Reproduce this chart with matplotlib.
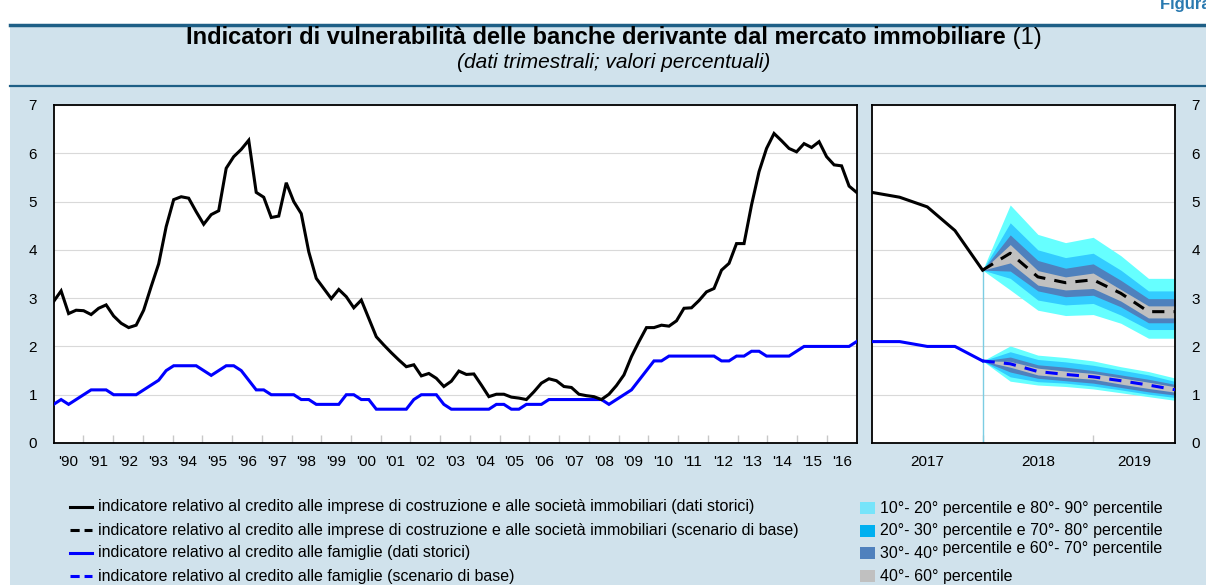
import numpy as np
import matplotlib
matplotlib.use("Agg")
import matplotlib.pyplot as plt
from matplotlib.lines import Line2D
from matplotlib.patches import Rectangle

plt.rcParams['font.family'] = ['Liberation Sans', 'DejaVu Sans']

# ---------------- DATA ----------------
# quarterly historical series 1990 Q1 - 2016 Q4 (left panel)
imprese_storico = [
    2.93, 3.15, 2.68, 2.75, 2.74, 2.66, 2.79, 2.86, 2.63, 2.48, 2.39, 2.44,
    2.75, 3.24, 3.71, 4.48, 5.04, 5.10, 5.07, 4.79, 4.53, 4.73, 4.81, 5.69,
    5.93, 6.08, 6.27, 5.19, 5.09, 4.67, 4.70, 5.39, 5.00, 4.75, 3.96, 3.41,
    3.20, 2.99, 3.18, 3.03, 2.80, 2.96, 2.58, 2.20, 2.03, 1.87, 1.72, 1.58,
    1.62, 1.39, 1.44, 1.34, 1.17, 1.28, 1.49, 1.42, 1.43, 1.20, 0.96, 1.01,
    1.01, 0.95, 0.93, 0.90, 1.06, 1.24, 1.33, 1.29, 1.17, 1.15, 1.01, 0.98,
    0.96, 0.90, 1.01, 1.19, 1.41, 1.79, 2.10, 2.39, 2.39, 2.44, 2.42, 2.53,
    2.79, 2.80, 2.95, 3.13, 3.20, 3.58, 3.72, 4.13, 4.13, 4.93, 5.62, 6.10,
    6.41, 6.26, 6.10, 6.03, 6.20, 6.12, 6.24, 5.93, 5.76, 5.74, 5.32, 5.19]
famiglie_storico = [
    0.8, 0.9, 0.8, 0.9, 1.0, 1.1, 1.1, 1.1, 1.0, 1.0, 1.0, 1.0,
    1.1, 1.2, 1.3, 1.5, 1.6, 1.6, 1.6, 1.6, 1.5, 1.4, 1.5, 1.6,
    1.6, 1.5, 1.3, 1.1, 1.1, 1.0, 1.0, 1.0, 1.0, 0.9, 0.9, 0.8,
    0.8, 0.8, 0.8, 1.0, 1.0, 0.9, 0.9, 0.7, 0.7, 0.7, 0.7, 0.7,
    0.9, 1.0, 1.0, 1.0, 0.8, 0.7, 0.7, 0.7, 0.7, 0.7, 0.7, 0.8,
    0.8, 0.7, 0.7, 0.8, 0.8, 0.8, 0.9, 0.9, 0.9, 0.9, 0.9, 0.9,
    0.9, 0.9, 0.8, 0.9, 1.0, 1.1, 1.3, 1.5, 1.7, 1.7, 1.8, 1.8,
    1.8, 1.8, 1.8, 1.8, 1.8, 1.7, 1.7, 1.8, 1.8, 1.9, 1.9, 1.8,
    1.8, 1.8, 1.8, 1.9, 2.0, 2.0, 2.0, 2.0, 2.0, 2.0, 2.0, 2.1]
anni = list(range(1990, 2017))
anni_labels = ["'90", "'91", "'92", "'93", "'94", "'95", "'96", "'97", "'98", "'99",
               "'00", "'01", "'02", "'03", "'04", "'05", "'06", "'07", "'08", "'09",
               "'10", "'11", "'12", "'13", "'14", "'15", "'16"]

# right panel: quarter index (0 = 2017 Q1 start)
trim_storico = [0, 1, 2, 3, 4]
imprese_storico_r = [5.19, 5.09, 4.89, 4.40, 3.58]
famiglie_storico_r = [2.1, 2.1, 2.0, 2.0, 1.7]
trim_prev = [4, 5, 6, 7, 8, 9, 10, 11]
imprese_p10 = [3.58, 3.17, 2.75, 2.64, 2.66, 2.48, 2.17, 2.17]
imprese_p20 = [3.58, 3.41, 2.96, 2.86, 2.89, 2.65, 2.35, 2.35]
imprese_p30 = [3.58, 3.56, 3.15, 3.03, 3.06, 2.82, 2.49, 2.49]
imprese_p40 = [3.58, 3.73, 3.27, 3.17, 3.20, 2.94, 2.59, 2.59]
imprese_med = [3.58, 3.93, 3.44, 3.32, 3.38, 3.10, 2.72, 2.72]
imprese_p60 = [3.58, 4.11, 3.57, 3.44, 3.52, 3.18, 2.84, 2.84]
imprese_p70 = [3.58, 4.31, 3.78, 3.62, 3.71, 3.37, 2.99, 2.99]
imprese_p80 = [3.58, 4.56, 4.00, 3.84, 3.93, 3.58, 3.15, 3.15]
imprese_p90 = [3.58, 4.93, 4.32, 4.15, 4.26, 3.88, 3.41, 3.41]
famiglie_p10 = [1.70, 1.28, 1.20, 1.17, 1.12, 1.04, 0.96, 0.88]
famiglie_p20 = [1.70, 1.37, 1.27, 1.24, 1.18, 1.10, 1.01, 0.94]
famiglie_p30 = [1.70, 1.47, 1.34, 1.29, 1.24, 1.15, 1.06, 0.99]
famiglie_p40 = [1.70, 1.57, 1.41, 1.36, 1.32, 1.22, 1.13, 1.05]
famiglie_med = [1.70, 1.64, 1.48, 1.42, 1.37, 1.29, 1.20, 1.10]
famiglie_p60 = [1.70, 1.69, 1.55, 1.49, 1.44, 1.35, 1.26, 1.16]
famiglie_p70 = [1.70, 1.78, 1.62, 1.57, 1.50, 1.41, 1.32, 1.21]
famiglie_p80 = [1.70, 1.89, 1.73, 1.68, 1.61, 1.51, 1.41, 1.27]
famiglie_p90 = [1.70, 2.01, 1.82, 1.77, 1.70, 1.58, 1.48, 1.34]
anni_r = ["2017", "2018", "2019"]
anni_r_pos = [2, 6, 9.5]
confini_anni_r = [4, 8]

legend_lines = [
    "indicatore relativo al credito alle imprese di costruzione e alle società immobiliari (dati storici)",
    "indicatore relativo al credito alle imprese di costruzione e alle società immobiliari (scenario di base)",
    "indicatore relativo al credito alle famiglie (dati storici)",
    "indicatore relativo al credito alle famiglie (scenario di base)"]
legend_bands = [
    ("10°- 20° percentile e 80°- 90° percentile", ""),
    ("20°- 30° percentile e 70°- 80° percentile", ""),
    ("30°- 40°", " percentile e 60°- 70° percentile"),
    ("40°- 60° percentile", "")]

# ---------------- STYLE ----------------
BG = '#D0E2EC'
TEAL = '#1E5F86'
C90 = '#66FFFF'
C80 = '#33CCFF'
C70 = '#4F81BD'
C60 = '#C0C0C0'
LEG_COLS = ['#77E4FA', '#00B0F0', '#4F81BD', '#C0C0C0']
GRID = '#D9D9D9'
W, H = 1206, 585

fig = plt.figure(figsize=(W / 100, H / 100), dpi=100)
fig.patch.set_facecolor('white')
renderer = fig.canvas.get_renderer()
fig.add_artist(Rectangle((10 / W, 0), 1 - 10 / W, 1 - 24 / H, transform=fig.transFigure,
                         facecolor=BG, edgecolor='none', zorder=-10))
fig.add_artist(Line2D([10 / W, 1], [1 - 25 / H, 1 - 25 / H], transform=fig.transFigure,
                      color=TEAL, lw=2.5))
fig.add_artist(Line2D([10 / W, 1], [1 - 86 / H, 1 - 86 / H], transform=fig.transFigure,
                      color=TEAL, lw=1.6))
fig.text(1160 / W, 1 - 4 / H, "Figura 1.", color='#2A7AB0', fontsize=12, fontweight='bold',
         ha='left', va='center')

# title (bold part + normal "(1)") centred at x=614 px
TFS = 17
t1 = fig.text(0, 1 - 38 / H, "Indicatori di vulnerabilità delle banche derivante dal mercato immobiliare",
              fontsize=TFS, fontweight='bold', ha='left', va='center')
t2 = fig.text(0, 1 - 38 / H, " (1)", fontsize=TFS, ha='left', va='center')
w1 = t1.get_window_extent(renderer).width
w2 = t2.get_window_extent(renderer).width
x0 = 614 - (w1 + w2) / 2
t1.set_x(x0 / W)
t2.set_x((x0 + w1) / W)
fig.text(614 / W, 1 - 63 / H, "(dati trimestrali; valori percentuali)", fontsize=15,
         style='italic', ha='center', va='center')

TICKFS = 11
bottom = 1 - 443 / H
height = 338 / H

# ---------------- LEFT PANEL ----------------
axL = fig.add_axes([53.6 / W, bottom, 803 / W, height])
n = len(imprese_storico)
xq = anni[0] + np.arange(n) * (len(anni)) / (n - 1)
axL.plot(xq, famiglie_storico, color='#0000FF', lw=2.2, solid_joinstyle='miter', zorder=3)
axL.plot(xq, imprese_storico, color='black', lw=2.2, solid_joinstyle='miter', zorder=4)
axL.set_xlim(anni[0], anni[-1] + 1)
axL.set_ylim(0, 7)
axL.set_yticks(range(0, 8))
axL.set_xticks(anni[1:])
axL.set_xticks([a + 0.5 for a in anni], minor=True)
axL.set_xticklabels([])
axL.set_xticklabels(anni_labels, minor=True)
axL.tick_params(axis='x', which='major', direction='in', length=6, color='#C8C8C8', width=1)
axL.tick_params(axis='x', which='minor', length=0, labelsize=TICKFS, pad=9)
axL.tick_params(axis='y', length=0, labelsize=TICKFS, pad=12)
axL.grid(axis='y', color=GRID, lw=0.8)
axL.set_axisbelow(True)
for s in axL.spines.values():
    s.set_linewidth(1.3)

# ---------------- RIGHT PANEL ----------------
axR = fig.add_axes([872 / W, bottom, 303 / W, height])
bands = [
    (imprese_p10, imprese_p90, C90), (imprese_p20, imprese_p80, C80),
    (imprese_p30, imprese_p70, C70), (imprese_p40, imprese_p60, C60),
    (famiglie_p10, famiglie_p90, C90), (famiglie_p20, famiglie_p80, C80),
    (famiglie_p30, famiglie_p70, C70), (famiglie_p40, famiglie_p60, C60)]
for lo, hi, c in bands:
    axR.fill_between(trim_prev, lo, hi, color=c, lw=0, zorder=2)
axR.vlines(trim_prev[0], 0, imprese_med[0], color='#7CCDE3', lw=1, zorder=2.5)
axR.plot(trim_storico, imprese_storico_r, color='black', lw=2.2, zorder=4)
axR.plot(trim_storico, famiglie_storico_r, color='#0000FF', lw=2.2, zorder=4)
axR.plot(trim_prev, imprese_med, color='black', lw=2.2, dashes=(4, 3), zorder=5)
axR.plot(trim_prev, famiglie_med, color='#0000FF', lw=2.2, dashes=(4, 3), zorder=5)
axR.set_xlim(0, 10.96)
axR.set_ylim(0, 7)
axR.set_yticks(range(0, 8))
axR.yaxis.tick_right()
axR.set_xticks(confini_anni_r)
axR.set_xticklabels([])
axR.set_xticks(anni_r_pos, minor=True)
axR.set_xticklabels(anni_r, minor=True)
axR.tick_params(axis='x', which='major', direction='in', length=6, color='#C8C8C8', width=1)
axR.tick_params(axis='x', which='minor', length=0, labelsize=TICKFS, pad=9)
axR.tick_params(axis='y', length=0, labelsize=TICKFS, pad=12)
axR.grid(axis='y', color=GRID, lw=0.8)
axR.set_axisbelow(True)
for s in axR.spines.values():
    s.set_linewidth(1.3)

# ---------------- LEGEND ----------------
LEGFS = 11.5
ys = [507, 530, 553, 576]
styles = [('black', None), ('black', (3, 1.6)), ('#0000FF', None), ('#0000FF', (3, 1.6))]
for y, (c, d), txt in zip(ys, styles, legend_lines):
    ln = Line2D([70 / W, 92 / W], [1 - y / H, 1 - y / H], transform=fig.transFigure,
                color=c, lw=2.2)
    if d:
        ln.set_dashes(d)
    fig.add_artist(ln)
    fig.text(98 / W, 1 - y / H, txt, fontsize=LEGFS, ha='left', va='center')

ysb = [508, 531, 553, 576]
for y, c, (txt, extra) in zip(ysb, LEG_COLS, legend_bands):
    fig.add_artist(Rectangle((860 / W, 1 - (y + 6) / H), 15 / W, 12 / H,
                             transform=fig.transFigure, facecolor=c, edgecolor='none'))
    tt = fig.text(880 / W, 1 - y / H, txt, fontsize=LEGFS, ha='left', va='center')
    if extra:
        wt = tt.get_window_extent(renderer).width
        fig.text((880 + wt) / W, 1 - (y - 4) / H, extra, fontsize=LEGFS, ha='left', va='center')

fig.savefig('out.png', dpi=100, facecolor=fig.get_facecolor())
